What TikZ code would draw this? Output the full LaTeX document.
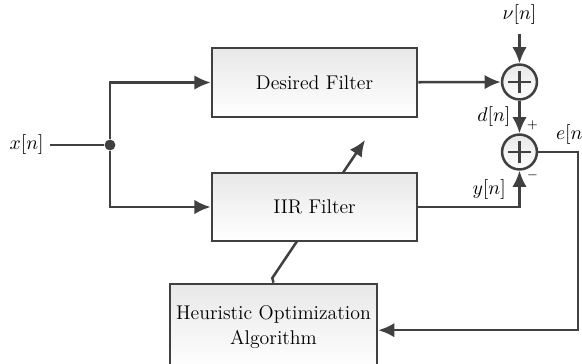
\documentclass[tikz,border=0pt]{standalone}
\usepackage{tikz}
\usetikzlibrary{shapes,arrows.meta,positioning}
\definecolor{wire}{HTML}{404040}
\tikzset{
  every node/.style={font=\fontsize{11}{13.5}\selectfont},
  blk/.style={rectangle, draw=wire, line width=1.4pt, top color=black!9, bottom color=white, text centered},
  sumnode/.style={circle, draw=wire, line width=1.4pt, minimum size=0.68cm, inner sep=0pt, top color=black!9, bottom color=white,
    path picture={\draw[wire, line width=1.4pt] ([xshift=-0.22cm]path picture bounding box.center) -- ([xshift=0.22cm]path picture bounding box.center)
      ([yshift=-0.22cm]path picture bounding box.center) -- ([yshift=0.22cm]path picture bounding box.center);}},
  wirestyle/.style={draw=wire, line width=1.4pt},
  >={Latex[length=9pt,width=8pt]}
}

\begin{document}
\begin{tikzpicture}
		\useasboundingbox (0,0) rectangle (11.349,7.079);
		\node[blk, minimum width=4cm, minimum height=1.35cm](desired) at (6.133,5.470){Desired Filter};
		\node[blk, minimum width=3.96cm, minimum height=1.68cm, align=center](heur) at (5.333,0.702){Heuristic Optimization\\Algorithm};
		
		% tuning arrow, behind the IIR box
		\coordinate (tune) at (7.118,4.349);
		\coordinate (bend) at (5.31,1.658);
		\draw[wirestyle,->](heur.north)--(bend)--(tune);
		
		\node[blk, minimum width=4cm, minimum height=1.33cm](iir) at (6.133,3.042){IIR Filter};
		\node[sumnode](sumA) at (10.130,5.480){};
		\node[sumnode](sumB) at (10.130,4.115){};
		\node[fill=wire, circle, inner sep=0pt, minimum size=6pt](split) at (2.145,4.251){};
		\node(xin) at (0.52,4.251){$x[n]$};
		\node(nu) at (10.13,6.79){$\nu[n]$};
		\coordinate (fbk) at (11.271,4.115);
		
		\draw[wirestyle](xin)--(split);
		\draw[wirestyle,->](split)|-(desired);
		\draw[wirestyle,->](split)|-(iir);
		\draw[wirestyle,->](desired)--(sumA);
		\draw[wirestyle,->](nu.south)++(0,-0.05)--(sumA);
		\draw[wirestyle,->](sumA)--node[left, xshift=-1pt]{$d[n]$}node[right, pos=0.75, font=\scriptsize]{$+$}(sumB);
		\draw[wirestyle,->](iir.east)-|node[above, pos=0.35]{$y[n]$}node[right, pos=0.93, font=\scriptsize]{$-$}(sumB);
		\draw[wirestyle,->](sumB)--node[above, pos=0.85]{$e[n]$}(fbk)|-(heur.east |- 0,0.64);
	\end{tikzpicture}
\end{document}
